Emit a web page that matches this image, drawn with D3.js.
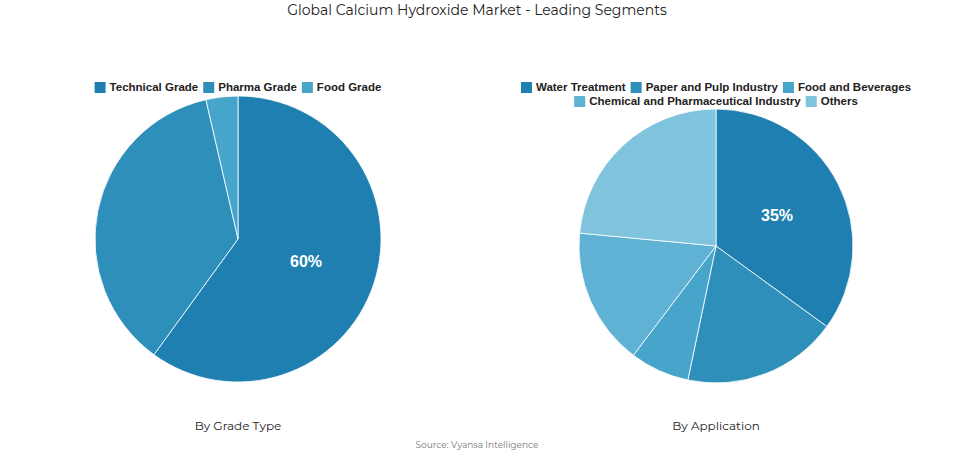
<!DOCTYPE html>
<html><head><meta charset="utf-8">
<script src="https://cdn.jsdelivr.net/npm/d3@7"></script>
<style>body{margin:0;background:#fff;font-family:Montserrat,"Open Sans",sans-serif}</style>
</head><body>
<svg id="c" width="955" height="454"></svg>
<script>
const gradeLabels = ["Technical Grade", "Pharma Grade", "Food Grade"];
const gradeValues = [60, 36.4, 3.6];
const gradeColors = ["#1e7fb0", "#2f8fbb", "#47a5cb"];
const appLabels = ["Water Treatment", "Paper and Pulp Industry", "Food and Beverages", "Chemical and Pharmaceutical Industry", "Others"];
const appValues = [35, 18.3, 7, 16.2, 23.5];
const appColors = ["#1e7fb0", "#2f8fbb", "#47a5cb", "#5fb2d3", "#7fc4dc"];

const svg = d3.select("#c");
svg.append("text").attr("x", 477).attr("y", 15).attr("text-anchor", "middle")
   .attr("font-size", 14).attr("fill", "#222").text("Global Calcium Hydroxide Market - Leading Segments");
svg.append("text").attr("x", 477).attr("y", 448).attr("text-anchor", "middle")
   .attr("font-size", 9).attr("fill", "#777").text("Source: Vyansa Intelligence");

function drawPie(cx, cy, r, labels, values, colors, title, legendRows) {
  const pie = d3.pie().sort(null).value(d => d)(values);
  const arc = d3.arc().innerRadius(0).outerRadius(r);
  const g = svg.append("g").attr("transform", `translate(${cx},${cy})`);
  g.selectAll("path").data(pie).enter().append("path")
   .attr("d", arc).attr("fill", (d, i) => colors[i]).attr("stroke", "#fff").attr("stroke-width", 0.8);
  const lab = d3.arc().innerRadius(r * 0.5).outerRadius(r * 0.5);
  const big = pie[0];
  g.append("text").attr("transform", `translate(${lab.centroid(big)})`).attr("text-anchor", "middle")
   .attr("dy", "0.35em").attr("font-size", 16).attr("font-weight", "bold").attr("fill", "#fff")
   .attr("font-family", "Liberation Sans, Arial").text(values[0] + "%");
  svg.append("text").attr("x", cx).attr("y", 430).attr("text-anchor", "middle")
   .attr("font-size", 12).attr("fill", "#222").text(title);
  legendRows.forEach((row, ri) => {
    const lg = svg.append("g");
    let x = 0;
    row.forEach(i => {
      const item = lg.append("g").attr("transform", `translate(${x},0)`);
      item.append("rect").attr("width", 11).attr("height", 11).attr("y", -9).attr("fill", colors[i]);
      const t = item.append("text").attr("x", 15).attr("font-size", 11.5).attr("font-weight", "bold")
        .attr("fill", "#222").attr("font-family", "Liberation Sans, Arial").text(labels[i]);
      x += 15 + t.node().getComputedTextLength() + 5;
    });
    lg.attr("transform", `translate(${cx - (x - 5) / 2},${91 + ri * 14})`);
  });
}
drawPie(238, 239, 143, gradeLabels, gradeValues, gradeColors, "By Grade Type", [[0, 1, 2]]);
drawPie(716, 246, 137, appLabels, appValues, appColors, "By Application", [[0, 1, 2], [3, 4]]);
</script>
</body></html>
